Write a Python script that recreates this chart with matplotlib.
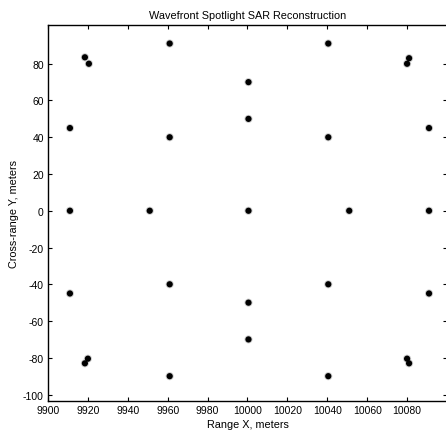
import numpy as np
import matplotlib
matplotlib.use("Agg")
import matplotlib.pyplot as plt

# ---------- data: reconstructed point targets (range X, cross-range Y) ----------
x_targets = [9911, 9911, 9911,
             9918.5, 9920.5, 9918.5, 9920,
             9951,
             9961, 9961, 9961, 9961,
             10000.5, 10000.5, 10000.5, 10000.5, 10000.5,
             10040.5, 10040.5, 10040.5, 10040.5,
             10051,
             10080, 10081, 10080, 10081,
             10091, 10091, 10091]
y_targets = [45, 0, -45,
             83.5, 80, -83, -80.5,
             0,
             91, 40, -40, -90,
             70, 50, 0, -50, -70,
             91, 40, -40, -90,
             0,
             80, 83, -80.5, -83,
             45, 0, -45]

x_ticks = np.arange(9900, 10081, 20)
y_ticks = np.arange(-100, 81, 20)

plt.rcParams["font.family"] = ["Liberation Sans", "DejaVu Sans"]
plt.rcParams["axes.unicode_minus"] = False

fig = plt.figure(figsize=(4.46, 4.35), dpi=100)
ax = fig.add_axes([0.1076, 0.0759, 0.8946, 0.864])

# faint halo, then solid core
ax.scatter(x_targets, y_targets, s=34, color="#cccccc", edgecolors="none", zorder=2)
ax.scatter(x_targets, y_targets, s=20, color="black", edgecolors="none", zorder=3)

ax.set_xlim(9900, 10100)
ax.set_ylim(-103.5, 101)
ax.set_xticks(x_ticks)
ax.set_yticks(y_ticks)
ax.tick_params(direction="in", length=3, width=0.8, labelsize=7.5,
               top=True, right=True, pad=3)
for sp in ax.spines.values():
    sp.set_linewidth(1.0)

ax.set_title("Wavefront Spotlight SAR Reconstruction", fontsize=7.8, pad=5)
ax.set_xlabel("Range X, meters", fontsize=7.8, labelpad=3)
ax.set_ylabel("Cross-range Y, meters", fontsize=7.8, labelpad=3)

fig.savefig("out.png", dpi=100)
